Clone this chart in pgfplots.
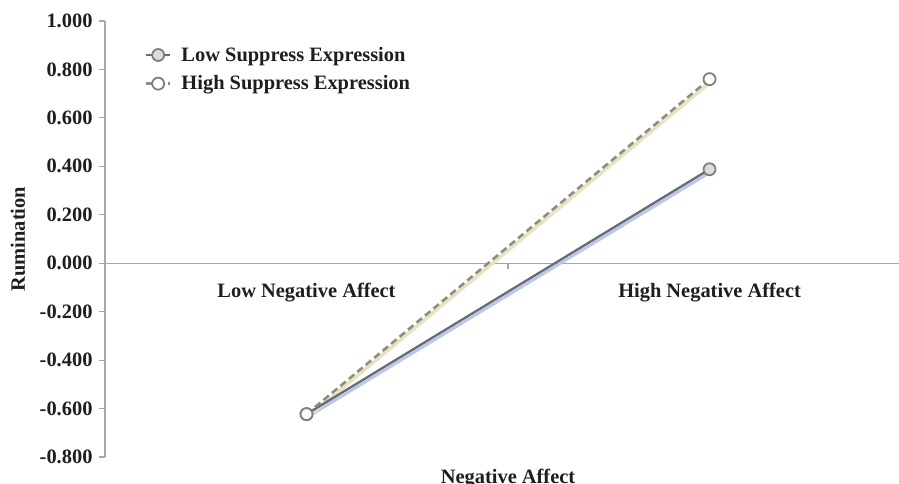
\documentclass[border=0pt]{standalone}
\usepackage{fontspec}
\setmainfont{Liberation Serif}
\usepackage{pgfplots}
\pgfplotsset{compat=1.18}
\definecolor{axgray}{HTML}{A6A6A6}
\definecolor{lowline}{HTML}{6B6B6B}
\definecolor{highline}{HTML}{8C8C8C}
\definecolor{blueshadow}{HTML}{B9C8EE}
\definecolor{yellowshadow}{HTML}{E9E3BC}
\definecolor{markedge}{HTML}{7F7F7F}
\definecolor{markfill}{HTML}{DCDCDC}
\definecolor{txt}{HTML}{1E1E1E}
\begin{document}
\begin{tikzpicture}
\begin{axis}[
  name=ax, at={(0,0)}, anchor=south west,
  scale only axis, width=794bp, height=436bp,
  xmin=0, xmax=1.97, ymin=-0.8, ymax=1.0,
  axis x line=middle, axis y line=left,
  axis line style={draw=axgray, line width=1.3bp, -},
  tick align=outside,
  major tick length=6bp,
  tick style={draw=axgray, line width=1.2bp},
  ytick={-0.8,-0.6,-0.4,-0.2,0,0.2,0.4,0.6,0.8,1.0},
  yticklabel style={xshift=-3bp, /pgf/number format/.cd, fixed, fixed zerofill, precision=3, assume math mode=true},
  tick label style={font=\fontsize{20.5}{22}\selectfont\bfseries, text=txt},
  xtick={1}, xticklabels={},
  extra x ticks={0.5,1.5},
  extra x tick labels={Low Negative Affect, High Negative Affect},
  extra x tick style={major tick length=0pt, xticklabel style={yshift=-16bp}},
  ylabel={Rumination},
  ylabel style={at={(axis description cs:-0.1096,0.5)}, anchor=center, rotate=0, font=\fontsize{20.5}{22}\selectfont\bfseries, text=txt},
  xlabel={Negative Affect},
  xlabel style={at={(axis description cs:0.5076,-0.05)}, anchor=center, font=\fontsize{20.5}{22}\selectfont\bfseries, text=txt},
  clip=false,
  legend style={at={(axis description cs:0.05,0.945)}, anchor=north west, draw=none, fill=none,
    font=\fontsize{20.5}{22}\selectfont\bfseries, text=txt, row sep=9bp, inner sep=0pt},
  legend cell align=left,
  legend image code/.code={\draw[mark repeat=2,mark phase=2,#1] plot coordinates {(0bp,0bp) (12bp,0bp) (24bp,0bp)};},
]
% shadows
\addplot[forget plot, blueshadow, line width=3bp, xshift=1.5bp, yshift=-2.5bp] coordinates {(0.5,-0.623) (1.5,0.388)};
\addplot[forget plot, yellowshadow, line width=3.5bp, xshift=1.5bp, yshift=-2.5bp] coordinates {(0.5,-0.623) (1.5,0.760)};
% main series
\addplot[lowline, line width=2.3bp, mark=*, mark size=6bp,
  mark options={draw=markedge, fill=markfill, line width=1.8bp, solid}] coordinates {(0.5,-0.623) (1.5,0.388)};
\addlegendentry{\hspace{8bp}Low Suppress Expression}
\addplot[highline, line width=2.6bp, dash pattern=on 7bp off 4bp, mark=*, mark size=6bp,
  mark options={draw=markedge, fill=white, line width=1.8bp, solid}] coordinates {(0.5,-0.623) (1.5,0.760)};
\addlegendentry{\hspace{8bp}High Suppress Expression}
\end{axis}
\pgfresetboundingbox
\path (-105bp,-27bp) rectangle (794bp,457bp);
\end{tikzpicture}
\end{document}
